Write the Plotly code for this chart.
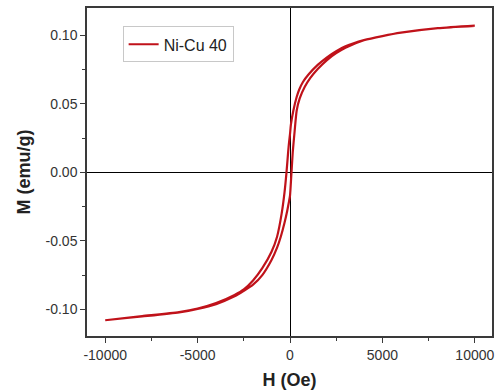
import plotly.graph_objects as go

# Descending branch (from +H to -H)
h_desc = [10000, 8000, 6000, 5000, 4000, 3000, 2500, 2000, 1500, 1000, 700, 500, 360, 180, 50, 0,
          -50, -100, -190, -300, -450, -700, -1000, -1500, -2000, -2500, -3000, -4000, -5000, -6000,
          -8000, -10000]
m_desc = [0.107, 0.1053, 0.102, 0.0995, 0.0965, 0.092, 0.0885, 0.084, 0.0785, 0.0715, 0.066, 0.0605,
          0.055, 0.045, 0.035, 0.028, 0.022, 0.015, 0.0, -0.015, -0.030, -0.047, -0.058, -0.070,
          -0.079, -0.0855, -0.0895, -0.0955, -0.0995, -0.102, -0.105, -0.108]

# Ascending branch (from -H to +H)
h_asc = [-10000, -8000, -6000, -5000, -4000, -3000, -2500, -2000, -1500, -1000, -700, -500, -300,
         -150, -50, 0, 80, 150, 250, 360, 525, 800, 1100, 1500, 2000, 2500, 3000, 4000, 5000, 6000,
         8000, 10000]
m_asc = [-0.108, -0.1052, -0.1022, -0.0997, -0.0962, -0.0905, -0.0865, -0.082, -0.075, -0.064,
         -0.055, -0.047, -0.037, -0.028, -0.021, -0.017, 0.0, 0.015, 0.030, 0.045, 0.054, 0.0625,
         0.069, 0.0755, 0.082, 0.087, 0.091, 0.0965, 0.0995, 0.102, 0.1053, 0.1072]

x_ticks = [-10000, -5000, 0, 5000, 10000]
y_ticks = [-0.10, -0.05, 0.00, 0.05, 0.10]
y_tick_labels = ["-0.10", "-0.05", "0.00", "0.05", "0.10"]

h_loop = h_desc + h_asc
m_loop = m_desc + m_asc

fig = go.Figure()
fig.add_trace(go.Scatter(x=h_loop, y=m_loop, mode="lines", name="Ni-Cu 40",
                         line=dict(color="#c0121a", width=2.2, shape="spline", smoothing=0.6)))

font = "Liberation Sans, Arial, sans-serif"
axis_common = dict(showline=True, linecolor="#3a3a3a", linewidth=1.5, mirror=True,
                   ticks="outside", ticklen=5, tickwidth=1.3, tickcolor="#3a3a3a",
                   showgrid=False, zeroline=True, zerolinecolor="#000000", zerolinewidth=1,
                   tickfont=dict(family=font, size=14, color="#333333"))

fig.update_layout(
    width=496, height=392,
    margin=dict(l=87, r=2, t=8, b=56),
    plot_bgcolor="white", paper_bgcolor="white",
    showlegend=True,
    legend=dict(x=0.088, y=0.944, xanchor="left", yanchor="top",
                bordercolor="#c8c8c8", borderwidth=1, bgcolor="white",
                font=dict(family=font, size=16, color="#222222"),
                tracegroupgap=0, itemwidth=30),
    xaxis=dict(range=[-10985, 10930], tickvals=x_ticks, ticktext=[str(v) for v in x_ticks],
               minor=dict(dtick=2500, ticks="outside", ticklen=3, tickcolor="#3a3a3a"),
               title=dict(text="<b>H (Oe)</b>", font=dict(family=font, size=18, color="#222222"),
                          standoff=12),
               **axis_common),
    yaxis=dict(range=[-0.1195, 0.12], tickvals=y_ticks, ticktext=y_tick_labels,
               minor=dict(dtick=0.025, ticks="outside", ticklen=3, tickcolor="#3a3a3a"),
               title=dict(text="<b>M (emu/g)</b>", font=dict(family=font, size=18, color="#222222"),
                          standoff=10),
               **axis_common),
)

fig.write_html("out.html")
